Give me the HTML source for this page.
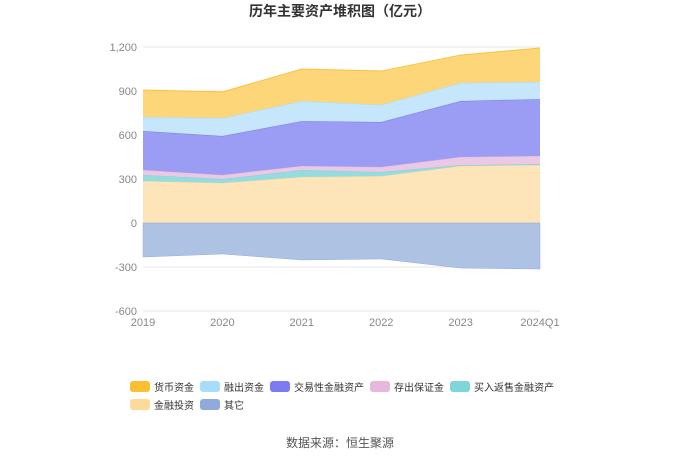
<!DOCTYPE html>
<html><head><meta charset="utf-8"><style>
body{margin:0;background:#fff;font-family:"Liberation Sans","Noto Sans CJK SC",sans-serif;}
#wrap{position:relative;width:680px;height:460px;}
</style></head><body>
<div id="wrap">
<svg id="svg" width="680" height="460" xmlns="http://www.w3.org/2000/svg">
<text x="340" y="16" text-anchor="middle" font-size="14" font-weight="bold" fill="#333">历年主要资产堆积图（亿元）</text>
<g id="grid"></g><g id="areas"></g><g id="axes"></g><g id="legend"></g>
<text x="340" y="447" text-anchor="middle" font-size="12" fill="#555">数据来源：恒生聚源</text>
</svg>
</div>
<script>
const categories=["2019","2020","2021","2022","2023","2024Q1"];
const seriesNames=["金融投资","买入返售金融资产","存出保证金","交易性金融资产","融出资金","货币资金"];
const s_jrtz=[286,273,314,320,389,395];
const s_mrfs=[41,27,47,28,6,7];
const s_ccbz=[34,27,28,34,55,55];
const s_jyx=[266,266,306,307,382,388];
const s_rczj=[96,123,137,116,123,116];
const s_hbzj=[184,177,218,231,190,232];
const s_other=[-232,-211,-252,-245,-307,-314];
const yTicks=[-600,-300,0,300,600,900,1200];
const yTickLabels=["-600","-300","0","300","600","900","1,200"];
const NS="http://www.w3.org/2000/svg";
const x0=143,x1=540,yZero=223,pxPer=44/300;
const X=i=>x0+(x1-x0)*i/(categories.length-1);
const Y=v=>yZero-v*pxPer;
function mk(t,a,p){const e=document.createElementNS(NS,t);for(const k in a)e.setAttribute(k,a[k]);p.appendChild(e);return e;}
const grid=document.getElementById('grid'),areas=document.getElementById('areas'),axes=document.getElementById('axes'),legend=document.getElementById('legend');
yTicks.forEach((v,i)=>{
 const l=mk('line',{x1:x0,x2:x1,y1:Y(v),y2:Y(v),stroke:'#e6e6e6','stroke-width':1},grid);
 
 
 const t=mk('text',{x:x0-6,y:Y(v)+4,'text-anchor':'end','font-size':11,fill:'#888'},axes);
 t.textContent=yTickLabels[i];
 
 
});
categories.forEach((c,i)=>{
 const t=mk('text',{x:X(i),y:Y(-600)+15,'text-anchor':'middle','font-size':11,fill:'#888'},axes);
 t.textContent=c;
 
 
});
const stacks=[s_jrtz,s_mrfs,s_ccbz,s_jyx,s_rczj,s_hbzj];
const fills=["#fde5b9","#94dce0","#ebc8e3","#9b9cf3","#c5e6fb","#fdd67a"];
const lines=["#fdd99a","#7fd6d9","#e7b8dc","#7b7cf0","#a8dcfb","#fbc23a"];
const keys=["area-jinrong-touzi","area-mairu-fanshou","area-cunchu-baozhengjin","area-jiaoyixing","area-rongchu-zijin","area-huobi-zijin"];
let base=categories.map(()=>0);
stacks.forEach((s,k)=>{
 const top=base.map((b,i)=>b+s[i]);
 let d='M'+top.map((v,i)=>X(i)+','+Y(v)).join('L');
 for(let i=categories.length-1;i>=0;i--)d+='L'+X(i)+','+Y(base[i]);
 const p=mk('path',{d:d+'Z',fill:fills[k],stroke:'none'},areas);
 
 
 const ln=mk('path',{d:'M'+top.map((v,i)=>X(i)+','+Y(v)).join('L'),fill:'none',stroke:lines[k],'stroke-width':1},areas);
 
 
 base=top;
});
{
 let d='M'+s_other.map((v,i)=>X(i)+','+Y(v)).join('L')+'L'+X(categories.length-1)+','+yZero+'L'+x0+','+yZero+'Z';
 const p=mk('path',{d:d,fill:'#aec3e3',stroke:'#8fabdb','stroke-width':0.5},areas);
 
 
}
const leg=[["货币资金","#fbbf2f",130,387],["融出资金","#a8dcfb",200,387],["交易性金融资产","#7b7cf0",270,387],["存出保证金","#e7b8dc",370,387],["买入返售金融资产","#7fd6d9",450,387],["金融投资","#fdd99a",130,405],["其它","#8fabdb",200,405]];
leg.forEach(L=>{
 const g=mk('g',{},legend);
 
 
 mk('rect',{x:L[2],y:L[3]-6,width:20,height:11,rx:3,fill:L[1]},g);
 const t=mk('text',{x:L[2]+24,y:L[3]+4,'font-size':10,fill:'#333'},g);
 t.textContent=L[0];
});
</script>
</body></html>
